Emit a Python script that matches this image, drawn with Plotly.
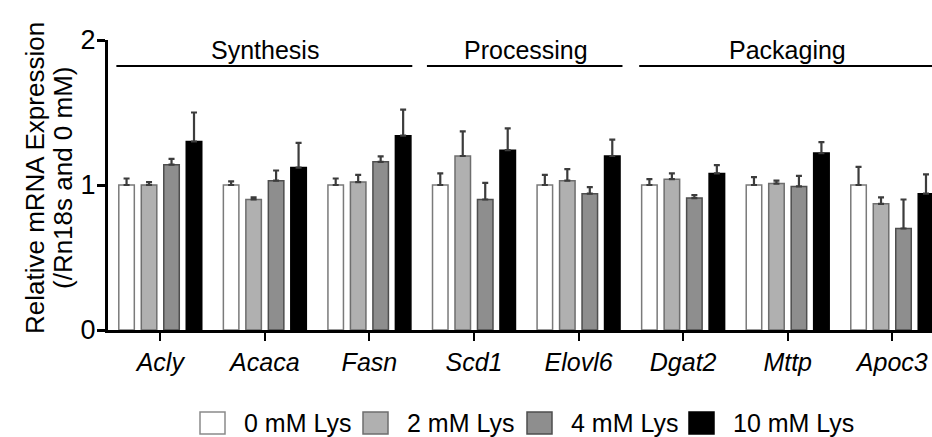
import plotly.graph_objects as go

# Genes on the x axis, grouped by lipid-metabolism stage
genes = ["Acly", "Acaca", "Fasn", "Scd1", "Elovl6", "Dgat2", "Mttp", "Apoc3"]
stages = ["Synthesis", "Processing", "Packaging"]
stage_spans = [(-0.42, 2.41), (2.55, 4.42), (4.58, 7.45)]
stage_centers = [1.0, 3.5, 6.0]

doses = ["0 mM Lys", "2 mM Lys", "4 mM Lys", "10 mM Lys"]

# Relative mRNA expression (mean) per dose
lys0 = [1.00, 1.00, 1.00, 1.00, 1.00, 1.00, 1.00, 1.00]
lys2 = [1.00, 0.90, 1.02, 1.20, 1.03, 1.04, 1.01, 0.87]
lys4 = [1.14, 1.03, 1.16, 0.90, 0.94, 0.91, 0.99, 0.70]
lys10 = [1.30, 1.12, 1.34, 1.24, 1.20, 1.08, 1.22, 0.94]

# Upper error (SEM) per dose
err0 = [0.045, 0.025, 0.045, 0.08, 0.07, 0.04, 0.055, 0.125]
err2 = [0.02, 0.015, 0.05, 0.17, 0.08, 0.04, 0.02, 0.045]
err4 = [0.04, 0.07, 0.037, 0.115, 0.046, 0.02, 0.073, 0.20]
err10 = [0.20, 0.17, 0.18, 0.15, 0.113, 0.057, 0.076, 0.133]

y_title = ["Relative mRNA Expression", "(/Rn18s and 0 mM)"]

means = [lys0, lys2, lys4, lys10]
errors = [err0, err2, err4, err10]
fills = ["#ffffff", "#b0b0b0", "#8e8e8e", "#000000"]
edges = ["#7a7a7a", "#6e6e6e", "#4e4e4e", "#000000"]

FONT = "Liberation Sans, Arial, Helvetica, sans-serif"
W, H = 932, 437
ML, MR, MT, MB = 108, 0, 40, 107
PW, PH = W - ML - MR, H - MT - MB

xs = list(range(len(genes)))
fig = go.Figure()
for name, m, e, fc, ec in zip(doses, means, errors, fills, edges):
    fig.add_trace(go.Bar(
        x=xs, y=m, name=name,
        marker=dict(color=fc, line=dict(color=ec, width=1.5)),
        error_y=dict(type="data", array=e, symmetric=False,
                     arrayminus=[0] * len(e),
                     color="#3c3c3c", thickness=2.2, width=3),
        showlegend=False,
    ))

# Stage brackets above the bars
for label, (x0, x1), xc in zip(stages, stage_spans, stage_centers):
    fig.add_shape(type="line", xref="x", yref="y", x0=x0, x1=x1,
                  y0=1.82, y1=1.82, line=dict(color="black", width=2))
    fig.add_annotation(x=xc, y=1.82, xref="x", yref="y", text=label,
                       showarrow=False, yanchor="bottom", yshift=0,
                       font=dict(family=FONT, size=25, color="black"))

# Y axis title, one annotation per line
for line, px in zip(y_title, [35, 63]):
    fig.add_annotation(x=(px - ML) / PW, y=(H - MB - 178) / PH,
                       xref="paper", yref="paper", text=line,
                       textangle=-90, showarrow=False,
                       xanchor="center", yanchor="middle",
                       font=dict(family=FONT, size=26, color="black"))

# Legend drawn as boxes + labels beneath the axis
box_left = [200, 363, 527, 689]
box_w, box_h, legend_cy = 25, 22, 423
for bx, name, fc, ec in zip(box_left, doses, fills, edges):
    fig.add_shape(type="rect", xref="paper", yref="paper",
                  x0=(bx - ML) / PW, x1=(bx + box_w - ML) / PW,
                  y0=(H - MB - legend_cy - box_h / 2) / PH,
                  y1=(H - MB - legend_cy + box_h / 2) / PH,
                  fillcolor=fc,
                  line=dict(color=ec if fc != "#ffffff" else "#8a8a8a", width=1.5))
    fig.add_annotation(x=(bx + box_w + 17 - ML) / PW,
                       y=(H - MB - legend_cy) / PH,
                       xref="paper", yref="paper", text=name,
                       xanchor="left", yanchor="middle", showarrow=False,
                       font=dict(family=FONT, size=25, color="black"))

fig.update_layout(
    width=W, height=H,
    margin=dict(l=ML, r=MR, t=MT, b=MB, pad=0),
    paper_bgcolor="white", plot_bgcolor="white",
    barmode="group", bargap=0.14, bargroupgap=0.31,
    font=dict(family=FONT, size=25, color="black"),
    showlegend=False,
)
fig.update_xaxes(
    range=[-0.5, 7.38], tickmode="array", tickvals=xs,
    ticktext=[f"<i>{g}</i>" for g in genes],
    showline=True, linecolor="black", linewidth=3,
    ticks="outside", ticklen=8, tickwidth=2, tickcolor="black",
    showgrid=False, zeroline=False,
    tickfont=dict(family=FONT, size=25, color="black"),
)
fig.update_yaxes(
    range=[0, 2], tickvals=[0, 1, 2], ticktext=["0", "1", "2"],
    showline=True, linecolor="black", linewidth=3,
    ticks="outside", ticklen=8, tickwidth=3, tickcolor="black",
    ticklabelstandoff=-4,
    showgrid=False, zeroline=False,
    tickfont=dict(family=FONT, size=27, color="black"),
)

fig.write_html("out.html")
